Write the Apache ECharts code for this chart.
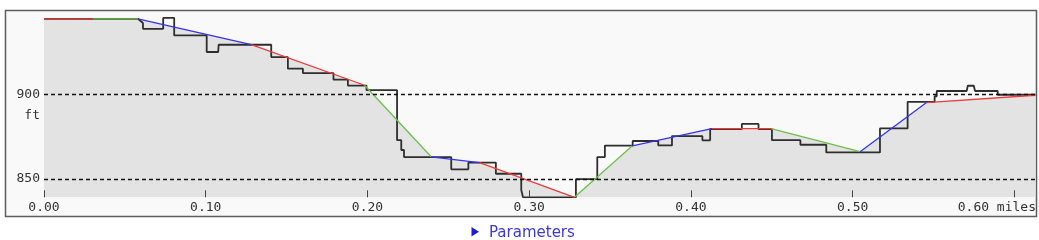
<!DOCTYPE html>
<html><head><meta charset="utf-8">
<script src="https://cdn.jsdelivr.net/npm/echarts@6/dist/echarts.min.js"></script>
<style>html,body{margin:0;padding:0;background:#fff}#c{width:1039px;height:240px}</style>
</head><body><div id="c"></div>
<script>
// Smoothed (segmented) profile, miles / ft
const profileDist = [0, 0.0303, 0.0581, 0.1282, 0.1982, 0.2394, 0.2693, 0.3280, 0.3638, 0.4129, 0.4496, 0.5046, 0.5457, 0.6130];
const profileElev = [944.5, 944.5, 944.5, 929.2, 905.3, 863.1, 859.6, 839.2, 869.6, 879.7, 879.7, 866.1, 895.1, 899.4];
// Raw stepped elevation
const stepDist = [0, 0.0581, 0.0612, 0.0612, 0.0737, 0.0737, 0.0805, 0.0805, 0.1006, 0.1006, 0.1077, 0.1080,
  0.1405, 0.1405, 0.1508, 0.1508, 0.1601, 0.1601, 0.1790, 0.1790, 0.1879, 0.1879, 0.1994, 0.1994,
  0.2183, 0.2183, 0.2209, 0.2209, 0.2226, 0.2226, 0.2518, 0.2518, 0.2624, 0.2624, 0.2794, 0.2794,
  0.2951, 0.2951, 0.2962, 0.2962, 0.3289, 0.3289, 0.3421, 0.3421, 0.3468, 0.3468, 0.3640, 0.3640,
  0.3798, 0.3798, 0.3883, 0.3883, 0.4071, 0.4071, 0.4119, 0.4119, 0.4315, 0.4315, 0.4418, 0.4418,
  0.4501, 0.4501, 0.4677, 0.4677, 0.4837, 0.4837, 0.5169, 0.5169, 0.5340, 0.5340, 0.5507, 0.5507,
  0.5520, 0.5520, 0.5705, 0.5712, 0.5749, 0.5757, 0.5897, 0.5897, 0.6130];
const stepElev = [944.5, 944.5, 942.0, 938.6, 938.6, 945.0, 945.0, 934.7, 934.7, 924.9, 924.9, 929.2,
  929.2, 921.9, 921.9, 915.1, 915.1, 912.5, 912.5, 908.6, 908.6, 905.1, 905.1, 902.4,
  902.4, 872.9, 872.9, 867.1, 867.1, 862.9, 862.9, 855.7, 855.7, 859.7, 859.7, 853.1,
  853.1, 843.5, 843.5, 839.2, 839.2, 849.9, 849.9, 862.9, 862.9, 869.7, 869.7, 872.4,
  872.4, 869.8, 869.8, 875.3, 875.3, 872.8, 872.8, 879.5, 879.5, 882.5, 882.5, 879.5,
  879.5, 872.9, 872.9, 870.2, 870.2, 865.7, 865.7, 879.8, 879.8, 895.5, 895.5, 898.8,
  898.8, 901.9, 901.9, 905.0, 905.0, 901.9, 901.9, 899.7, 899.7];
const xTicks = [0, 0.1, 0.2, 0.3, 0.4, 0.5, 0.6];
const yTicks = [850, 900];
const xUnit = 'miles';
const yUnit = 'ft';
const segColors = ['#ee3a3a', '#6cbf4a', '#3434ee'];

const mono = 'DejaVu Sans Mono';
const chart = echarts.init(document.getElementById('c'), null, {renderer: 'canvas'});

const profile = profileDist.map((d, i) => [d, profileElev[i]]);
const steps = stepDist.map((d, i) => [d, stepElev[i]]);

const series = [
  {
    type: 'line', data: profile, symbol: 'none', silent: true, z: 1,
    lineStyle: {width: 0},
    areaStyle: {color: '#e3e3e3', opacity: 1, origin: 'start'},
    markLine: {
      silent: true, symbol: ['none', 'none'], label: {show: false},
      lineStyle: {type: [4, 3], color: '#111', width: 1.4},
      data: yTicks.map(v => ({yAxis: v}))
    }
  },
  {
    type: 'line', data: steps, symbol: 'none', silent: true, z: 3,
    lineStyle: {color: '#2e2e2e', width: 1.8}
  }
];
for (let i = 0; i < profile.length - 1; i++) {
  series.push({
    type: 'line', data: [profile[i], profile[i + 1]], symbol: 'none', silent: true, z: 4,
    lineStyle: {color: segColors[i % 3], width: 1.3}
  });
}

chart.setOption({
  animation: false,
  backgroundColor: '#fff',
  grid: {left: 44, right: 3, top: 11.5, bottom: 42.7, show: false},
  xAxis: {
    type: 'value', min: 0, max: 0.613, z: 6,
    axisLine: {show: false},
    splitLine: {show: false},
    axisTick: {show: true, inside: true, length: 7, customValues: xTicks, lineStyle: {color: '#444', width: 1}},
    axisLabel: {
      customValues: xTicks, margin: 4, fontFamily: mono, fontSize: 13, color: '#333',
      formatter: v => Math.abs(v - 0.6) < 1e-9 ? '{m|' + v.toFixed(2) + ' ' + xUnit + '}' : v.toFixed(2),
      rich: {m: {fontFamily: mono, fontSize: 13, color: '#333', padding: [0, 35, 0, 0]}}
    }
  },
  yAxis: {
    type: 'value', min: 839.2, max: 948.8, z: 6,
    axisLine: {show: false}, axisTick: {show: false}, splitLine: {show: false},
    axisLabel: {
      customValues: yTicks, margin: 4, fontFamily: mono, fontSize: 13, color: '#333',
      formatter: v => v === 900 ? '{s| }\n{a|' + v + '}\n{f|' + yUnit + '}' : '{a|' + v + '}',
      rich: {
        s: {lineHeight: 28, fontFamily: mono, fontSize: 13},
        a: {lineHeight: 14, fontFamily: mono, fontSize: 13, color: '#333'},
        f: {lineHeight: 28, fontFamily: mono, fontSize: 13, color: '#333'}
      }
    }
  },
  graphic: [
    {type: 'rect', z: -1, silent: true, shape: {x: 5.5, y: 10.5, width: 1031, height: 206},
      style: {fill: '#f9f9f9', stroke: '#5e5e5e', lineWidth: 1.5}},
    {type: 'polygon', silent: true, shape: {points: [[471.5, 227], [471.5, 236.5], [479, 231.7]]},
      style: {fill: '#1f1fc8'}},
    {type: 'text', silent: true, x: 489, y: 233,
      style: {text: 'Parameters', fill: '#3a3ad2', font: '15px "DejaVu Sans"', textVerticalAlign: 'middle'}}
  ],
  series
});
</script></body></html>
